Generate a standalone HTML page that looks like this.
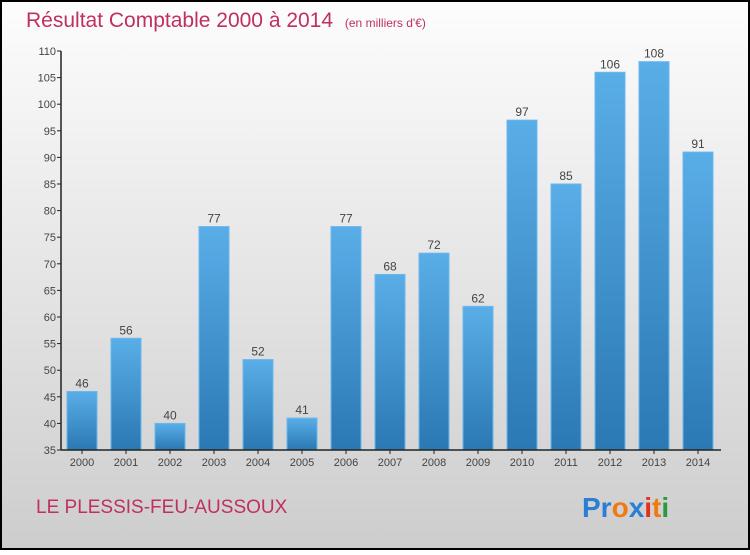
<!DOCTYPE html>
<html><head><meta charset="utf-8"><style>
html,body{margin:0;padding:0}
body{width:750px;height:550px;overflow:hidden;font-family:"Liberation Sans",sans-serif}
</style></head><body>
<svg width="750" height="550" xmlns="http://www.w3.org/2000/svg">
<defs>
<linearGradient id="bg" x1="0" y1="0" x2="0" y2="1"><stop offset="0" stop-color="#fdfdfd"/><stop offset="1" stop-color="#cdcdcd"/></linearGradient>
<linearGradient id="bar" x1="0" y1="0" x2="0" y2="1"><stop offset="0" stop-color="#5aaee8"/><stop offset="1" stop-color="#2a78b4"/></linearGradient>
</defs>
<rect x="1" y="1" width="748" height="548" fill="url(#bg)" stroke="#000" stroke-width="2"/>
<text x="26" y="27" font-size="21" fill="#c0305f">Résultat Comptable 2000 à 2014 <tspan font-size="12" dx="6">(en milliers d'€)</tspan></text>
<g id="plot"></g>
<text x="36" y="513" font-size="19" fill="#c0305f">LE PLESSIS-FEU-AUSSOUX</text>
<text x="582" y="517" font-size="28" font-weight="bold"><tspan fill="#2a7fd4">Pr</tspan><tspan fill="#f07a10">o</tspan><tspan fill="#2a7fd4">x</tspan><tspan fill="#e03020">i</tspan><tspan fill="#f07a10">t</tspan><tspan fill="#2a9a40">i</tspan></text>
</svg>
<script>
const years=["2000","2001","2002","2003","2004","2005","2006","2007","2008","2009","2010","2011","2012","2013","2014"];
const values=[46,56,40,77,52,41,77,68,72,62,97,85,106,108,91];
const yTicks=[35,40,45,50,55,60,65,70,75,80,85,90,95,100,105,110];
const NS="http://www.w3.org/2000/svg";
const g=document.getElementById('plot');
const y0=450,y1=51,vmin=35,vmax=110;
function yS(v){return y0-(v-vmin)*(y0-y1)/(vmax-vmin);}
function xS(i){return 82+i*44;}
function mk(t,a){const e=document.createElementNS(NS,t);for(const k in a)e.setAttribute(k,a[k]);g.appendChild(e);return e;}
yTicks.forEach(v=>{
 const l=mk('line',{x1:57,x2:61,y1:yS(v),y2:yS(v),stroke:'#222'});
 
 
 const t=mk('text',{x:56,y:yS(v)+4,'text-anchor':'end','font-size':11,fill:'#444'});
 t.textContent=v;
 
 
});
values.forEach((v,i)=>{
 const r=mk('rect',{x:xS(i)-15,y:yS(v),width:30,height:y0-yS(v),fill:'url(#bar)',stroke:'#6ab8ee','stroke-width':1});
 
 
 const t=mk('text',{x:xS(i),y:yS(v)-4,'text-anchor':'middle','font-size':12,fill:'#444'});
 t.textContent=v;
 
 
 const tk=mk('line',{x1:xS(i),x2:xS(i),y1:y0,y2:y0+4,stroke:'#222'});
 
 
 const xl=mk('text',{x:xS(i),y:466,'text-anchor':'middle','font-size':11,fill:'#444'});
 xl.textContent=years[i];
 
 
});
const ya=mk('line',{x1:61,x2:61,y1:y1,y2:y0,stroke:'#222','stroke-width':1.5});


const xa=mk('line',{x1:61,x2:721,y1:y0,y2:y0,stroke:'#222','stroke-width':1.5});


</script>
</body></html>
